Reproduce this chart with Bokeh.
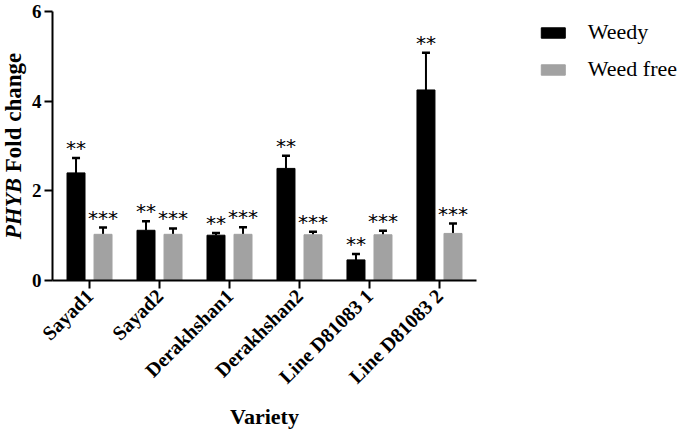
from bokeh.plotting import figure
from bokeh.models import (Range1d, FixedTicker, Legend, LegendItem, Div,
                          Whisker, TeeHead, ColumnDataSource)
from bokeh.layouts import row
from bokeh.core.properties import value
from bokeh.embed import file_html
from bokeh.resources import INLINE
import math

varieties = ["Sayad1", "Sayad2", "Derakhshan1", "Derakhshan2", "Line D81083 1", "Line D81083 2"]
weedy = [2.40, 1.12, 1.01, 2.50, 0.46, 4.25]
weedy_err = [0.33, 0.20, 0.05, 0.28, 0.13, 0.83]
weed_free = [1.03, 1.03, 1.03, 1.02, 1.02, 1.05]
weed_free_err = [0.15, 0.13, 0.16, 0.07, 0.09, 0.22]
weedy_sig = ["**", "**", "**", "**", "**", "**"]
weed_free_sig = ["***", "***", "***", "***", "***", "***"]
y_ticks = [0, 2, 4, 6]
series_names = ["Weedy", "Weed free"]
series_colors = ["black", "#a2a2a2"]
gene = "PHYB"
y_title_rest = "Fold change"
x_title = "Variety"

SERIF = "Liberation Serif"
OFF = 0.193
BW = 0.257

p = figure(width=458, height=432, x_range=Range1d(-0.529, 5.529), y_range=Range1d(0, 6),
           output_backend="svg", toolbar_location=None,
           min_border_left=24, min_border_right=10, min_border_top=11, min_border_bottom=149)
p.outline_line_color = None
p.grid.visible = False
p.background_fill_color = "white"

idx = list(range(len(varieties)))
src_w = ColumnDataSource(dict(x=[i - OFF for i in idx], top=weedy,
                              up=[v + e for v, e in zip(weedy, weedy_err)], sig=weedy_sig))
src_f = ColumnDataSource(dict(x=[i + OFF for i in idx], top=weed_free,
                              up=[v + e for v, e in zip(weed_free, weed_free_err)], sig=weed_free_sig))

for src, col in ((src_w, series_colors[0]), (src_f, series_colors[1])):
    p.vbar(x="x", top="top", width=BW, bottom=0, source=src, fill_color=col, line_color=col)
    wh = Whisker(source=src, base="x", lower="top", upper="up", line_color="black", line_width=2,
                 upper_head=TeeHead(size=8, line_width=2.5, line_color="black"), lower_head=None)
    p.add_layout(wh)
    p.text(x="x", y="up", text="sig", source=src, text_align="center", text_baseline="middle",
           y_offset=-10, text_font=value("DejaVu Sans"), text_font_size="20px", text_color="black")

# axes
for ax in (p.xaxis, p.yaxis):
    ax.axis_line_width = 2
    ax.axis_line_color = "black"
    ax.major_tick_line_width = 2
    ax.major_tick_line_color = "black"
    ax.major_tick_out = 8
    ax.major_tick_in = 0
    ax.minor_tick_line_color = None
    ax.major_label_text_font = SERIF
    ax.major_label_text_font_style = "bold"
    ax.major_label_text_color = "black"

p.xaxis.ticker = FixedTicker(ticks=idx)
p.xaxis.major_label_overrides = {i: v for i, v in zip(idx, varieties)}
p.xaxis.major_label_orientation = math.pi / 4
p.xaxis.major_label_text_font_size = "20px"
p.xaxis.major_label_standoff = 4
p.xaxis.axis_label = x_title
p.xaxis.axis_label_text_font = SERIF
p.xaxis.axis_label_text_font_style = "bold"
p.xaxis.axis_label_text_font_size = "22px"
p.xaxis.axis_label_text_color = "black"
p.xaxis.axis_label_standoff = 6

p.yaxis.ticker = FixedTicker(ticks=y_ticks)
p.yaxis.major_label_text_font_size = "19px"
p.yaxis.major_label_standoff = 3

# legend in its own small panel (swatch renderers carry no visible data)
leg = figure(width=199, height=432, x_range=Range1d(0, 1), y_range=Range1d(0, 1),
             x_axis_type=None, y_axis_type=None, output_backend="svg", toolbar_location=None,
             min_border_left=0, min_border_right=0, min_border_bottom=0, min_border_top=2,
             outline_line_color=None)
leg.grid.visible = False
items = []
for name, col in zip(series_names, series_colors):
    r = leg.vbar(x=[float("nan")], top=[float("nan")], width=0.1, fill_color=col, line_color=col)
    items.append(LegendItem(label=name, renderers=[r]))
legend = Legend(items=items, location="top_right", glyph_width=30, glyph_height=13, label_standoff=20,
                spacing=11, padding=0, margin=8, border_line_color=None,
                background_fill_alpha=0, label_text_font=SERIF, label_text_font_size="22px",
                label_text_color="black")
leg.add_layout(legend)

ytitle = Div(
    text=('<div style="position:absolute;left:13px;top:146px;'
          'transform:translate(-50%,-50%) rotate(-90deg);white-space:nowrap;'
          "font-family:'Liberation Serif';font-weight:bold;font-size:23px;color:black;line-height:1;\">"
          f"<i>{gene}</i> {y_title_rest}</div>"),
    width=28, height=432, margin=0, styles={"position": "relative", "overflow": "visible"})

layout = row(ytitle, p, leg, spacing=0)
open("out.html", "w").write(file_html(layout, INLINE))
